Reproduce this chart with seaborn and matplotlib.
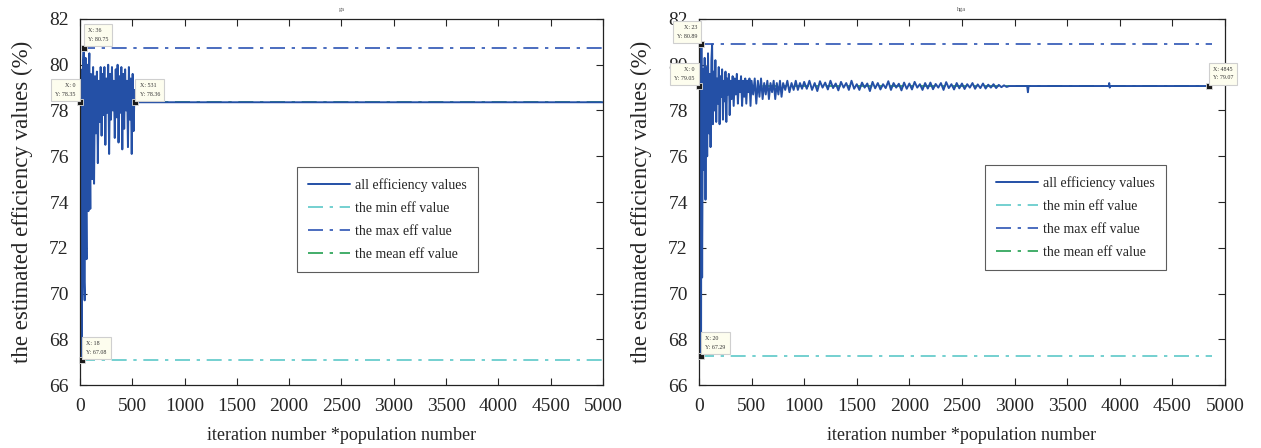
import numpy as np
import pandas as pd
import matplotlib
matplotlib.use("Agg")
import matplotlib.pyplot as plt
import seaborn as sns

# ---- data ----
# ga run: all efficiency values (iteration*population, efficiency %)
ga_x = [0, 4, 8, 12, 18, 22, 27, 31, 36, 40, 45, 50, 54, 58, 63, 68, 72, 77, 81, 86,
        90, 95, 99, 104, 108, 113, 117, 122, 126, 131, 135, 144, 153, 162, 171, 180,
        189, 198, 207, 216, 225, 234, 243, 252, 261, 270, 279, 288, 297, 306, 315,
        324, 333, 342, 351, 360, 369, 378, 387, 396, 405, 414, 423, 432, 441, 450,
        459, 468, 477, 486, 495, 504, 513, 522, 531, 5000]
ga_y = [78.35, 72.0, 79.5, 69.5, 67.08, 79.8, 72.5, 80.2, 80.75, 70.5, 69.7, 79.6,
        80.3, 74.0, 71.5, 79.4, 80.0, 75.5, 73.6, 79.8, 80.5, 76.0, 73.7, 79.6,
        79.2, 77.0, 75.0, 79.4, 79.9, 76.5, 74.8, 79.5, 77.0, 79.7, 75.7, 79.3,
        77.5, 79.9, 76.9, 79.6, 77.8, 79.9, 76.5, 79.4, 77.9, 80.0, 76.1, 79.6,
        77.6, 79.9, 78.0, 79.3, 76.8, 79.8, 77.7, 80.0, 76.6, 79.5, 77.9, 79.9,
        76.3, 79.6, 77.2, 79.8, 78.0, 79.3, 76.4, 79.9, 77.6, 79.4, 76.1, 79.6,
        77.1, 78.9, 78.36, 78.36]
ga_min, ga_max, ga_mean = 67.08, 80.75, 78.36
ga_tips = [(36, 80.75, "X: 36\nY: 80.75", "ur"), (0, 78.35, "X: 0\nY: 78.35", "ul"),
           (531, 78.36, "X: 531\nY: 78.36", "ur"), (18, 67.08, "X: 18\nY: 67.08", "ur")]

# hga run
hga_x = [0, 8, 14, 20, 23, 30, 38, 46, 54, 62, 70, 78, 86, 94, 102, 110, 118, 125,
         132, 140, 148, 156, 164, 172, 180, 188, 196, 204, 212, 220, 228, 236, 244,
         252, 260, 268, 276, 284, 292, 300, 310, 320, 330, 340, 350, 360, 370, 380,
         390, 400, 410, 420, 430, 440, 450, 460, 470, 480, 490, 500, 515, 530, 545,
         560, 575, 590, 605, 620, 635, 650, 665, 680, 695, 710, 725, 740, 755, 770,
         785, 800, 820, 840, 860, 880, 900, 920, 940, 960, 980,
         1000, 1025, 1050, 1075, 1100, 1125, 1150, 1175, 1200, 1225, 1250, 1275,
         1300, 1325, 1350, 1375, 1400, 1425, 1450, 1475, 1500, 1525, 1550, 1575,
         1600, 1625, 1650, 1675, 1700, 1725, 1750, 1775, 1800, 1825, 1850, 1875,
         1900, 1925, 1950, 1975, 2000, 2025, 2050, 2075, 2100, 2125, 2150, 2175,
         2200, 2225, 2250, 2275, 2300, 2325, 2350, 2375, 2400, 2425, 2450, 2475,
         2500, 2525, 2550, 2575, 2600, 2625, 2650, 2675, 2700, 2725, 2750, 2775,
         2800, 2825, 2850, 2875, 2900, 2925, 2950,
         3120, 3127, 3134, 3895, 3900, 3905, 3910, 4845]
hga_y = [79.05, 72.0, 69.5, 67.29, 80.89, 70.7, 79.8, 75.4, 80.3, 74.1, 79.9, 76.0,
         80.5, 77.0, 79.6, 76.4, 80.2, 80.9, 77.4, 79.7, 78.0, 80.2, 77.5, 79.4,
         78.3, 79.9, 77.4, 79.5, 78.6, 79.8, 77.6, 79.3, 78.4, 79.7, 77.5, 79.4,
         78.7, 79.6, 77.8, 79.3, 78.5, 79.5, 78.2, 79.4, 78.7, 79.6, 78.3, 79.3,
         78.8, 79.5, 78.2, 79.3, 78.6, 79.4, 78.3, 79.3, 78.8, 79.4, 78.2, 79.3,
         78.7, 79.4, 78.3, 79.3, 78.6, 79.4, 78.5, 79.2, 78.7, 79.3, 78.5, 79.2,
         78.8, 79.3, 78.5, 79.2, 78.7, 79.3, 78.6, 79.2, 78.9, 79.3, 78.8, 79.2,
         78.9, 79.3, 78.9, 79.2, 78.95,
         79.25, 78.95, 79.3, 78.9, 79.2, 78.85, 79.28, 79.0, 79.22, 78.92, 79.3,
         78.98, 79.18, 78.88, 79.25, 79.0, 79.2, 78.9, 79.3, 78.95, 79.15, 78.9,
         79.22, 79.0, 79.18, 78.85, 79.25, 78.97, 79.2, 78.92, 79.15, 78.98, 79.28,
         78.9, 79.2, 79.0, 79.17, 78.88, 79.22, 78.95, 79.18, 78.92, 79.25, 79.0,
         79.15, 78.9, 79.2, 78.96, 79.22, 78.93, 79.16, 79.0, 79.2, 78.9, 79.24,
         78.98, 79.15, 78.92, 79.2, 78.97, 79.18, 78.94, 79.15, 79.0, 79.2, 78.95,
         79.14, 78.98, 79.18, 78.96, 79.13, 79.0, 79.15, 78.98, 79.12, 79.02, 79.1,
         79.03, 79.07,
         79.07, 78.8, 79.07, 79.07, 79.2, 79.0, 79.07, 79.07]
hga_min, hga_max, hga_mean = 67.29, 80.89, 79.07
hga_tips = [(23, 80.89, "X: 23\nY: 80.89", "ul"), (0, 79.05, "X: 0\nY: 79.05", "ul"),
            (4845, 79.07, "X: 4845\nY: 79.07", "ur"), (20, 67.29, "X: 20\nY: 67.29", "ur")]

# colours
c_all = "#2450a6"
c_min = "#5cc8c8"
c_max = "#2c54b4"
c_mean = "#22a050"
dashdot = (0, (9, 4, 2, 4))

sns.set_style("ticks")
plt.rcParams["font.family"] = ["Liberation Serif", "DejaVu Serif"]

fig = plt.figure(figsize=(12.61, 4.48), dpi=100)
ax1 = fig.add_axes([0.0634, 0.1406, 0.4147, 0.8170])
ax2 = fig.add_axes([0.5543, 0.1406, 0.4171, 0.8170])


def draw(ax, xs, ys, vmin, vmax, vmean, x_end, tips, title, leg_anchor):
    df = pd.DataFrame({"x": xs, "y": ys})
    sns.lineplot(data=df, x="x", y="y", ax=ax, color=c_all, lw=1.4,
                 estimator=None, sort=False, label="all efficiency values")
    ends = [0, x_end]
    sns.lineplot(x=ends, y=[vmin, vmin], ax=ax, color=c_min, lw=1.2,
                 linestyle=dashdot, label="the min eff value")
    sns.lineplot(x=ends, y=[vmax, vmax], ax=ax, color=c_max, lw=1.2,
                 linestyle=dashdot, label="the max eff value")
    sns.lineplot(x=ends, y=[vmean, vmean], ax=ax, color=c_mean, lw=1.2,
                 linestyle=dashdot, label="the mean eff value", zorder=1)
    # MATLAB-style data tips
    for tx, ty, txt, side in tips:
        ax.plot(tx, ty, marker="s", ms=5, color="#1a1a1a", mec="#dddddd",
                mew=0.6, clip_on=False, zorder=6)
        if side == "ur":
            off, ha = (3, 4), "left"
        else:
            off, ha = (-3, 4), "right"
        ax.annotate(txt, (tx, ty), xytext=off, textcoords="offset points",
                    ha=ha, va="bottom", fontsize=4.3, color="#333333",
                    linespacing=1.9, annotation_clip=False, zorder=7,
                    bbox=dict(boxstyle="square,pad=0.7", fc="#fdfdee",
                              ec="#cfcfcf", lw=0.8))
    ax.set_xlim(0, 5000)
    ax.set_ylim(66, 82)
    ax.set_xticks(np.arange(0, 5001, 500))
    ax.set_yticks(np.arange(66, 83, 2))
    ax.tick_params(direction="in", labelsize=14, top=True, right=True,
                   length=5, width=0.8)
    ax.tick_params(axis="x", pad=9)
    ax.tick_params(axis="y", pad=8)
    for s in ax.spines.values():
        s.set_linewidth(0.9)
        s.set_color("#222222")
    ax.set_xlabel("iteration number *population number", fontsize=13, labelpad=9)
    ax.set_ylabel("the estimated efficiency values (%)", fontsize=16.5, labelpad=12)
    ax.set_title(title, fontsize=4.5, color="#555555", pad=6)
    leg = ax.legend(loc="upper left", bbox_to_anchor=leg_anchor, fontsize=10,
                    frameon=True, fancybox=False, edgecolor="#333333",
                    handlelength=3.0, borderpad=0.8, labelspacing=0.72,
                    handletextpad=0.4, borderaxespad=0)
    leg.get_frame().set_linewidth(0.8)


draw(ax1, ga_x, ga_y, ga_min, ga_max, ga_mean, 5000, ga_tips, "ga", (0.415, 0.596))
draw(ax2, hga_x, hga_y, hga_min, hga_max, hga_mean, 4880, hga_tips, "hga", (0.544, 0.600))

fig.savefig("out.png", dpi=100)
